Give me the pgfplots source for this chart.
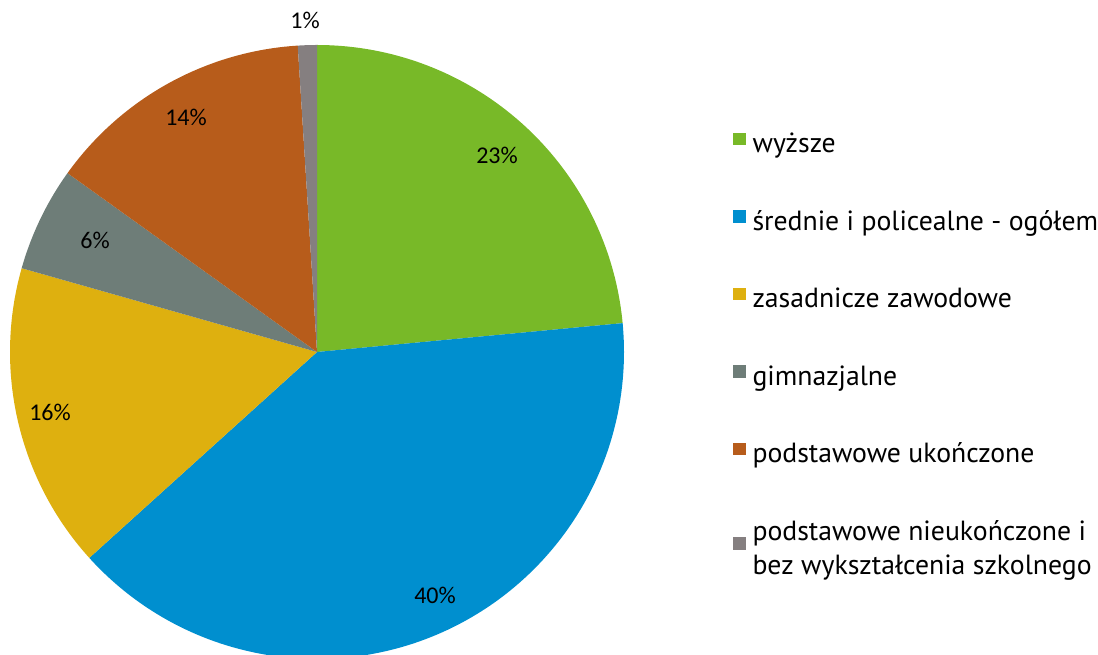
\documentclass[border=0pt]{standalone}
\usepackage{pgfplots}
\pgfplotsset{compat=1.18}
\usepackage{fontspec}
\setmainfont{PT Sans}
\newfontfamily\labfont{Carlito}
\definecolor{cGreen}{HTML}{78B928}
\definecolor{cBlue}{HTML}{008FCF}
\definecolor{cYellow}{HTML}{DEB00F}
\definecolor{cGray}{HTML}{6E7D78}
\definecolor{cBrown}{HTML}{B75C1B}
\definecolor{cDark}{HTML}{857F80}
\begin{document}
\begin{tikzpicture}
\begin{axis}[
  scale only axis, width=823.5pt, height=491.25pt,
  xmin=0, xmax=1098, ymin=0, ymax=655,
  hide axis, clip=true,
  legend cell align=left,
  legend style={draw=none, fill=none, at={(0.6675,0.798)}, anchor=north west,
    font=\fontsize{20.8}{25.5}\selectfont, row sep=41.5pt, column sep=5pt, inner sep=0pt,
    nodes={align=left, inner sep=0pt}},
  legend image code/.code={\fill[#1] (0pt,-1pt) rectangle (9.5pt,8.5pt);},
]
% shares in percent: 23.5, 39.8, 16.1, 5.5, 14.1, 1.0 (clockwise from 12 o'clock)
\addplot[fill=cGreen, draw=none, domain={90-3.6*23.5}:{90}, samples=120]
  ({317+307*cos(x)},{303+307*sin(x)}) -- (317,303) -- cycle;
\addlegendentry{wyższe}
\addplot[fill=cBlue, draw=none, domain={90-3.6*63.3}:{90-3.6*23.5}, samples=160]
  ({317+307*cos(x)},{303+307*sin(x)}) -- (317,303) -- cycle;
\addlegendentry{średnie i policealne - ogółem}
\addplot[fill=cYellow, draw=none, domain={90-3.6*79.4}:{90-3.6*63.3}, samples=80]
  ({317+307*cos(x)},{303+307*sin(x)}) -- (317,303) -- cycle;
\addlegendentry{zasadnicze zawodowe}
\addplot[fill=cGray, draw=none, domain={90-3.6*84.9}:{90-3.6*79.4}, samples=40]
  ({317+307*cos(x)},{303+307*sin(x)}) -- (317,303) -- cycle;
\addlegendentry{gimnazjalne}
\addplot[fill=cBrown, draw=none, domain={90-3.6*99.0}:{90-3.6*84.9}, samples=80]
  ({317+307*cos(x)},{303+307*sin(x)}) -- (317,303) -- cycle;
\addlegendentry{podstawowe ukończone}
\addplot[fill=cDark, draw=none, domain={90-3.6*100}:{90-3.6*99.0}, samples=10]
  ({317+307*cos(x)},{303+307*sin(x)}) -- (317,303) -- cycle;
\addlegendentry{podstawowe nieukończone i\\bez wykształcenia szkolnego}
\begin{scope}[font=\labfont\fontsize{18}{20}\selectfont]
\node at (497,500) {23\%};
\node at (435,60) {40\%};
\node at (50,243) {16\%};
\node at (95,415) {6\%};
\node at (186,538) {14\%};
\node at (305,635) {1\%};
\end{scope}
\end{axis}
\pgfresetboundingbox
\path (current axis.south west) rectangle (current axis.north east);
\end{tikzpicture}
\end{document}
